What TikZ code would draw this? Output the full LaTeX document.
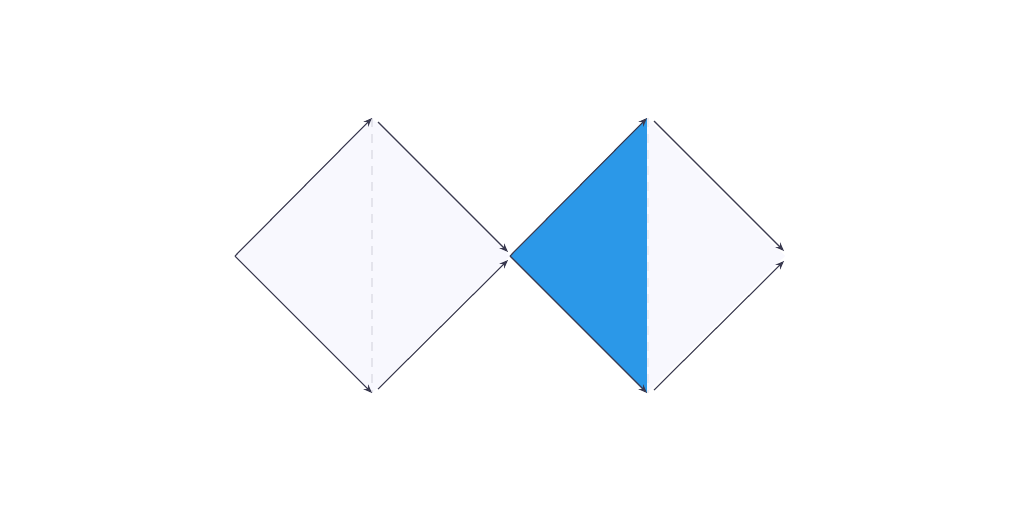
\documentclass[tikz,border=0pt]{standalone}
\usetikzlibrary{arrows.meta}
\definecolor{lav}{HTML}{F8F8FE}
\definecolor{bluefill}{HTML}{2B98E8}
\definecolor{edge}{HTML}{3A3A50}
\definecolor{dashc}{HTML}{E4E4EC}
\tikzset{
  edgeline/.style={draw=edge,line width=0.8pt,-{Stealth[length=6.5pt,width=5pt]}},
  axis/.style={draw=dashc,line width=0.9pt,dash pattern=on 7pt off 5pt},
}
\begin{document}
\begin{tikzpicture}[x=0.75pt,y=-0.75pt]
\useasboundingbox (0,0) rectangle (1024,512);
% vertices
\coordinate (L1) at (235,256);
\coordinate (T1) at (372,118);
\coordinate (B1) at (372,393);
\coordinate (M)  at (510,256);
\coordinate (T2) at (647,118);
\coordinate (B2) at (647,393);
\coordinate (R2) at (785,256);
% offset endpoints
\coordinate (a1) at (378,122);
\coordinate (a2) at (508,252);
\coordinate (b1) at (378,389);
\coordinate (b2) at (508,260);
\coordinate (c1) at (654,121);
\coordinate (c2) at (784,251);
\coordinate (d1) at (654,390);
\coordinate (d2) at (784,261);
\coordinate (T2d) at (648,118);
\coordinate (B2d) at (648,393);
% fills
\fill[lav] (L1) -- (T1) -- (M) -- (B1) -- cycle;
\fill[bluefill] (M) -- (T2) -- (B2) -- cycle;
\fill[lav] (T2) -- (R2) -- (B2) -- cycle;
% dashed axes
\draw[axis] (T1) -- (B1);
\draw[axis,draw=dashc!60!lav] (T2d) -- (B2d);
% edges
\draw[edgeline] (L1) -- (T1);
\draw[edgeline] (L1) -- (B1);
\draw[edgeline] (a1) -- (a2);
\draw[edgeline] (b1) -- (b2);
\draw[edgeline] (M) -- (T2);
\draw[edgeline] (M) -- (B2);
\draw[edgeline] (c1) -- (c2);
\draw[edgeline] (d1) -- (d2);
\end{tikzpicture}
\end{document}
